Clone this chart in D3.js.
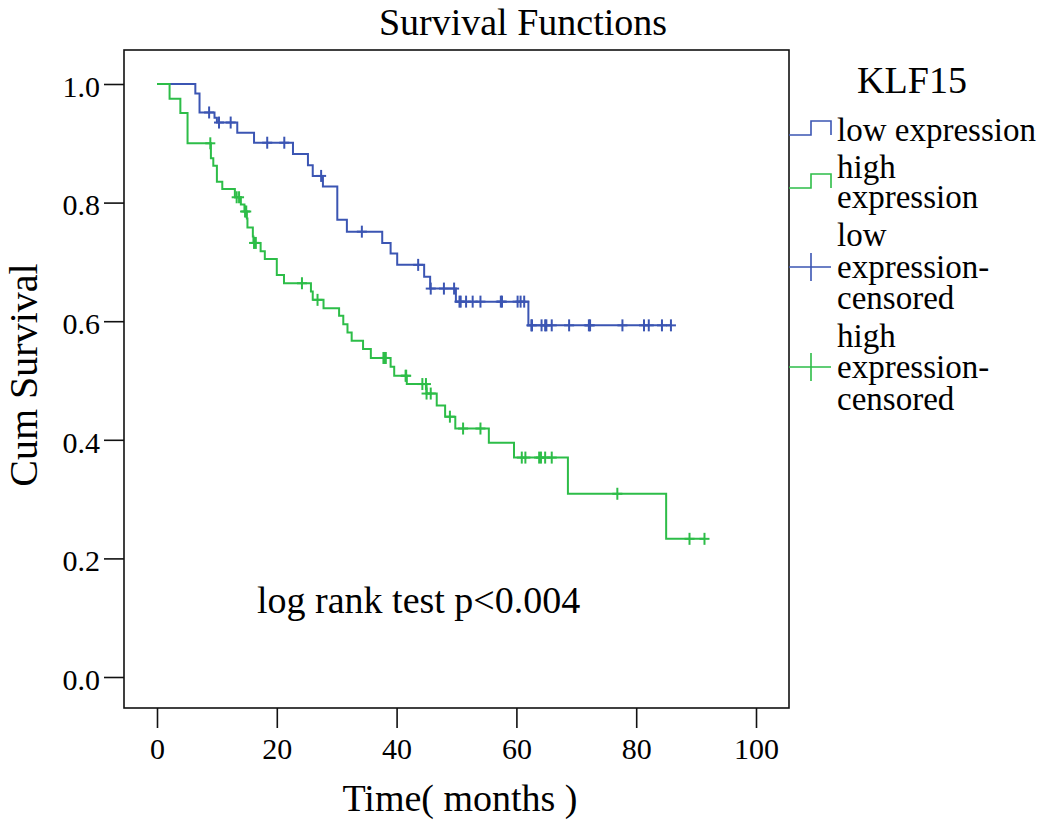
<!DOCTYPE html>
<html><head><meta charset="utf-8">
<script src="https://cdn.jsdelivr.net/npm/d3@7"></script>
<style>
body{margin:0;background:#fff;}
text{font-family:"Liberation Serif","Times New Roman",serif;fill:#000;}
</style></head>
<body><svg id="c" width="1037" height="824"></svg>
<script>
// ---- data ----
const groups = ["low expression", "high expression"];
// step events: [time (months), survival after the step]
const lowSteps = [[6.4,0.984],[7.1,0.952],[9.6,0.943],[10.0,0.935],[13.4,0.918],[16.2,0.901],[22.7,0.882],[25.2,0.863],[26.0,0.845],[27.7,0.827],[30.1,0.771],[31.7,0.751],[37.6,0.732],[39.0,0.714],[40.1,0.695],[44.6,0.675],[45.6,0.655],[49.9,0.633],[62.0,0.593]];
const highSteps = [[2.1,0.975],[3.9,0.951],[5.1,0.900],[9.0,0.875],[9.4,0.862],[10.0,0.835],[10.9,0.823],[13.0,0.809],[14.0,0.797],[14.6,0.785],[15.0,0.773],[15.1,0.758],[16.0,0.743],[16.1,0.732],[17.3,0.718],[18.0,0.705],[20.0,0.678],[21.2,0.664],[25.7,0.650],[26.0,0.636],[27.8,0.622],[30.4,0.609],[31.1,0.595],[31.8,0.581],[32.5,0.567],[34.4,0.553],[35.7,0.538],[39.0,0.523],[39.6,0.508],[41.7,0.494],[45.0,0.478],[46.7,0.458],[48.1,0.439],[49.8,0.419],[55.4,0.395],[59.6,0.370],[68.6,0.309],[85.0,0.233]];
// censored times
const lowCensored = [8.7,10.35,12.3,18.4,21.25,27.4,34.2,43.6,45.7,47.9,49.6,50.5,50.7,51.6,52.7,54.0,57.4,57.6,60.2,60.7,61.3,62.5,62.6,64.2,64.8,65.0,65.9,68.8,72.1,72.3,77.7,81.3,82.1,84.3,85.8];
const highCensored = [8.9,13.3,13.7,14.7,14.9,16.2,16.5,24.2,26.8,37.8,38.0,38.2,41.5,41.6,44.3,44.9,45.0,45.7,48.9,51.1,54.0,60.9,61.5,63.8,64.1,64.8,65.9,76.85,88.9,91.4];
const xTicks = [0,20,40,60,80,100];
const yTicks = [0.0,0.2,0.4,0.6,0.8,1.0];
const legendLabels = [["low expression"],["high","expression"],["low","expression-","censored"],["high","expression-","censored"]];

// ---- layout ----
const svg = d3.select("#c");
const frame = {l:124, r:789, t:50, b:708};
const x = d3.scaleLinear().domain([0,100]).range([157,756]);
const y = d3.scaleLinear().domain([0,1]).range([677,84]);
const colors = {low:"#3b55b3", high:"#2dbd48"};

// title
svg.append("text").attr("x",523).attr("y",35).attr("text-anchor","middle")
  .style("font-size","38px").text("Survival Functions");

// frame
svg.append("rect").attr("x",frame.l).attr("y",frame.t)
  .attr("width",frame.r-frame.l).attr("height",frame.b-frame.t)
  .attr("fill","none").attr("stroke","#111").attr("stroke-width",1.6);

// axes
const ya = svg.append("g").attr("transform",`translate(${frame.l},0)`)
  .call(d3.axisLeft(y).tickValues(yTicks).tickFormat(d3.format(".1f")).tickSize(20).tickPadding(4));
ya.select(".domain").remove();
ya.selectAll("line").attr("stroke","#111").attr("stroke-width",1.6);
ya.selectAll("text").style("font-size","30px").attr("dy","0.41em")
  .style("font-family","'Liberation Serif',serif");

const xa = svg.append("g").attr("transform",`translate(0,${frame.b})`)
  .call(d3.axisBottom(x).tickValues(xTicks).tickFormat(d3.format("d")).tickSize(20).tickPadding(10));
xa.select(".domain").remove();
xa.selectAll("line").attr("stroke","#111").attr("stroke-width",1.6);
xa.selectAll("text").style("font-size","30px").style("font-family","'Liberation Serif',serif");

// axis titles
svg.append("text").attr("x",460).attr("y",811).attr("text-anchor","middle")
  .style("font-size","38px").text("Time( months )");
svg.append("text").attr("transform","translate(37,375) rotate(-90)").attr("text-anchor","middle")
  .style("font-size","40px").text("Cum Survival");

// annotation
svg.append("text").attr("x",257).attr("y",613)
  .style("font-size","38px").text("log rank test p<0.004");

// curves
function survAt(steps, t){ let s=1; for(const [ts,v] of steps){ if(ts<=t) s=v; } return s; }
function curvePoints(steps, censored){
  const tEnd = Math.max(d3.max(censored), d3.max(steps,d=>d[0]));
  const pts = [[0,1], ...steps];
  pts.push([tEnd, survAt(steps,tEnd)]);
  return pts;
}
const line = d3.line().x(d=>x(d[0])).y(d=>y(d[1])).curve(d3.curveStepAfter);
const series = [
  {key:"low", steps:lowSteps, cens:lowCensored},
  {key:"high", steps:highSteps, cens:highCensored}
];
series.forEach(s=>{
  const g = svg.append("g").attr("stroke",colors[s.key]).attr("fill","none").attr("stroke-width",2);
  g.append("path").attr("d", line(curvePoints(s.steps,s.cens)));
  s.cens.forEach(t=>{
    const cx = x(t), cy = y(survAt(s.steps,t));
    g.append("line").attr("x1",cx).attr("x2",cx).attr("y1",cy-6).attr("y2",cy+6);
    g.append("line").attr("x1",cx-5).attr("x2",cx+5).attr("y1",cy).attr("y2",cy);
  });
});

// legend
svg.append("text").attr("x",912).attr("y",93).attr("text-anchor","middle")
  .style("font-size","38px").text("KLF15");
const legBase = [[141],[178,208],[246,278,309],[347,378,410]];
const legSym = [
  {type:"step", c:colors.low, yLow:135, yHigh:121},
  {type:"step", c:colors.high, yLow:188, yHigh:174},
  {type:"cross", c:colors.low, yc:267},
  {type:"cross", c:colors.high, yc:367}
];
legSym.forEach((s,i)=>{
  if(s.type==="step"){
    svg.append("path").attr("d",`M789,${s.yLow}H811V${s.yHigh}H831V${s.yLow}`)
      .attr("fill","none").attr("stroke",s.c).attr("stroke-width",1.6);
  } else {
    svg.append("path").attr("d",`M789,${s.yc}H831M811,${s.yc-14}V${s.yc+14}`)
      .attr("fill","none").attr("stroke",s.c).attr("stroke-width",1.6);
  }
  legendLabels[i].forEach((txt,j)=>{
    svg.append("text").attr("x",837).attr("y",legBase[i][j]).style("font-size","33px").text(txt);
  });
});
</script></body></html>
